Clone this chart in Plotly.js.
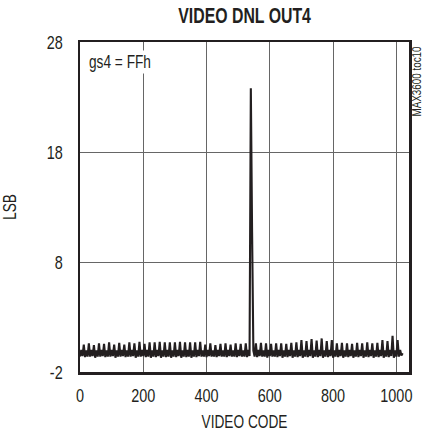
<!DOCTYPE html>
<html>
<head>
<meta charset="utf-8">
<script src="https://cdn.plot.ly/plotly-3.0.1.min.js"></script>
<style>
html,body{margin:0;padding:0;background:#fff;}
#chart{width:425px;height:437px;}
</style>
</head>
<body>
<div id="chart"></div>
<script>
// Video code samples every 4 codes (0 ... 1020)
const codeStep = 4;
// DNL (LSB), 4 samples per 16-code period
const dnl = [
  -0.6, 0.0, -0.55, 0.5,
  -0.65, -0.05, -0.6, 0.6,
  -0.6, 0.0, -0.55, 0.45,
  -0.7, -0.05, -0.6, 0.6,
  -0.6, 0.0, -0.55, 0.55,
  -0.65, -0.05, -0.6, 0.7,
  -0.6, 0.0, -0.55, 0.5,
  -0.7, -0.05, -0.6, 0.65,
  -0.6, 0.0, -0.55, 0.5,
  -0.65, -0.05, -0.6, 0.7,
  -0.6, 0.0, -0.55, 0.6,
  -0.7, -0.05, -0.6, 0.75,
  -0.6, 0.0, -0.55, 0.55,
  -0.65, 0.0, -0.6, 0.7,
  -0.7, -0.05, -0.6, 0.7,
  -0.65, 0.0, -0.55, 0.75,
  -0.7, -0.05, -0.6, 0.7,
  -0.65, 0.0, -0.6, 0.7,
  -0.7, -0.05, -0.6, 0.7,
  -0.65, 0.0, -0.55, 0.75,
  -0.7, -0.05, -0.6, 0.7,
  -0.65, 0.0, -0.6, 0.7,
  -0.7, -0.05, -0.6, 0.7,
  -0.65, 0.0, -0.55, 0.75,
  -0.6, -0.05, -0.6, 0.5,
  -0.65, 0.0, -0.55, 0.6,
  -0.6, -0.05, -0.6, 0.45,
  -0.65, 0.0, -0.55, 0.55,
  -0.6, -0.05, -0.6, 0.6,
  -0.65, 0.0, -0.55, 0.5,
  -0.6, -0.05, -0.6, 0.6,
  -0.65, 0.0, -0.55, 0.55,
  -0.6, -0.05, -0.6, 0.6,
  -0.65, 0.0, -0.55, 23.8,
  10.7, -0.05, -0.6, 0.6,
  -0.65, 0.0, -0.55, 0.65,
  -0.6, -0.05, -0.6, 0.6,
  -0.7, 0.0, -0.55, 0.55,
  -0.6, -0.05, -0.6, 0.6,
  -0.65, 0.0, -0.55, 0.6,
  -0.7, -0.05, -0.6, 0.55,
  -0.65, 0.0, -0.55, 0.65,
  -0.7, -0.05, -0.6, 0.7,
  -0.65, 0.0, -0.55, 0.9,
  -0.7, -0.05, -0.6, 0.8,
  -0.65, 0.0, -0.55, 1.0,
  -0.7, -0.05, -0.6, 0.85,
  -0.65, 0.0, -0.55, 1.05,
  -0.7, -0.05, -0.6, 0.8,
  -0.65, 0.0, -0.55, 0.9,
  -0.7, -0.05, -0.6, 0.6,
  -0.65, 0.0, -0.55, 0.65,
  -0.7, -0.05, -0.6, 0.6,
  -0.65, 0.0, -0.55, 0.55,
  -0.7, -0.05, -0.6, 0.65,
  -0.65, 0.0, -0.55, 0.6,
  -0.7, -0.05, -0.6, 0.7,
  -0.65, 0.0, -0.55, 0.6,
  -0.7, -0.05, -0.6, 0.65,
  -0.65, 0.0, -0.55, 0.9,
  -0.7, -0.05, -0.6, 0.8,
  -0.65, 0.0, -0.55, 1.3,
  -0.7, -0.05, -0.6, 0.9,
  -0.6, 0.0, -0.5, -0.3
];
const codes = dnl.map((_, i) => i * codeStep);

const xTicks = [0, 200, 400, 600, 800, 1000];
const yTicks = [-2, 8, 18, 28];
const noteText = 'gs4 = FFh';
const figId = 'MAX3600 toc10';

const FONT = '"Liberation Sans", Arial, sans-serif';
const INK = '#231f20';

const trace = {
  x: codes, y: dnl, type: 'scatter', mode: 'lines',
  line: {color: INK, width: 2.1},
  hoverinfo: 'skip'
};

const layout = {
  width: 425, height: 437,
  margin: {l: 80, r: 16, t: 42, b: 65},
  paper_bgcolor: '#fff', plot_bgcolor: '#fff',
  showlegend: false,
  font: {family: FONT, size: 18, color: INK},
  title: {
    text: 'VIDEO DNL OUT4',
    font: {family: FONT, size: 22, color: INK, weight: 'bold'},
    x: 0.5, xref: 'paper', xanchor: 'center',
    y: 1 - 15/437, yref: 'container', yanchor: 'middle'
  },
  xaxis: {
    range: [0, 1040],
    tickvals: xTicks, ticktext: xTicks.map(String),
    showgrid: true, gridcolor: '#666', gridwidth: 1,
    showline: true, linecolor: INK, linewidth: 2.5, mirror: true,
    zeroline: false, ticks: '', ticklabelstandoff: 5,
    tickfont: {family: FONT, size: 19, color: INK},
    title: {text: 'VIDEO CODE', font: {family: FONT, size: 18, color: INK}, standoff: 10}
  },
  yaxis: {
    range: [-2, 28],
    tickvals: yTicks, ticktext: yTicks.map(String),
    showgrid: true, gridcolor: '#666', gridwidth: 1,
    showline: true, linecolor: INK, linewidth: 2.5, mirror: true,
    zeroline: false, ticks: '', ticklabelstandoff: 11,
    tickfont: {family: FONT, size: 19, color: INK},
    title: {text: 'LSB', font: {family: FONT, size: 18, color: INK}, standoff: 24}
  },
  annotations: [
    {
      text: noteText, xref: 'paper', yref: 'paper',
      x: 0.02, y: 0.94, xanchor: 'left', yanchor: 'middle',
      showarrow: false, bgcolor: '#fff', borderpad: 1,
      font: {family: FONT, size: 18, color: INK}
    },
    {
      text: figId, xref: 'paper', yref: 'paper',
      x: 1.025, y: 0.882, xanchor: 'center', yanchor: 'middle',
      textangle: -90, showarrow: false, borderpad: 0,
      font: {family: FONT, size: 12, color: INK}
    }
  ]
};

// Narrow the lettering (the reference uses a condensed face) while keeping real text,
// then shift each label so that it keeps its intended anchor point.
function condenseText() {
  document.querySelectorAll('#chart svg text').forEach(function (t) {
    if (!t.textContent) return;
    const before = t.getBBox();
    if (!before.width) return;
    const w = t.getComputedTextLength();
    let k = t.classList.contains('gtitle') ? 0.72 : 0.76;
    if (t.textContent === figId) k = 0.82;
    t.setAttribute('textLength', (w * k).toFixed(2));
    t.setAttribute('lengthAdjust', 'spacingAndGlyphs');
    const after = t.getBBox();
    let anchor = t.getAttribute('text-anchor') || getComputedStyle(t).textAnchor || 'start';
    if (t.textContent === noteText) anchor = 'start';
    if (t.textContent === figId) anchor = 'middle';
    let dx = 0;
    if (anchor === 'middle') dx = (before.x + before.width / 2) - (after.x + after.width / 2);
    else if (anchor === 'end') dx = (before.x + before.width) - (after.x + after.width);
    else dx = before.x - after.x;
    if (Math.abs(dx) > 0.01) {
      t.setAttribute('x', (parseFloat(t.getAttribute('x') || 0) + dx).toFixed(2));
      t.querySelectorAll('tspan[x]').forEach(function (s) {
        s.setAttribute('x', (parseFloat(s.getAttribute('x')) + dx).toFixed(2));
      });
    }
  });
}

Plotly.newPlot('chart', [trace], layout, {displayModeBar: false, staticPlot: true}).then(condenseText);
</script>
</body>
</html>
